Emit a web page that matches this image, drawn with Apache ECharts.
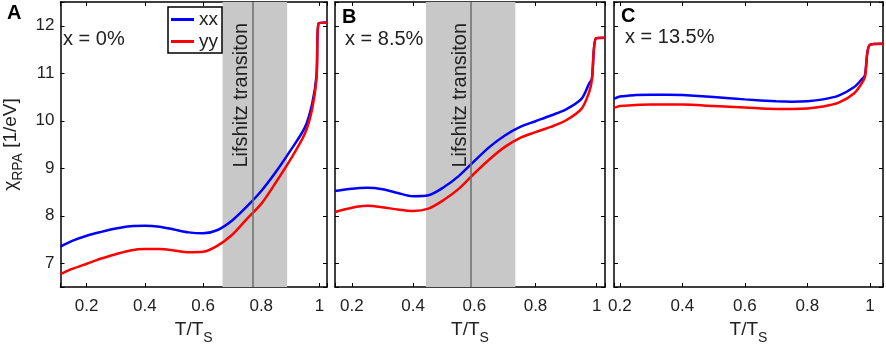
<!DOCTYPE html>
<html>
<head>
<meta charset="utf-8">
<script src="https://cdn.jsdelivr.net/npm/echarts@6/dist/echarts.min.js"></script>
<style>
html, body { margin: 0; padding: 0; background: #fff; }
#chart { width: 886px; height: 350px; }
</style>
</head>
<body>
<div id="chart"></div>
<script>
var chart = echarts.init(document.getElementById('chart'));

// panel A, x = 0%
var tA = [0.11, 0.15, 0.2, 0.25, 0.3, 0.35, 0.4, 0.45, 0.5, 0.55, 0.6, 0.65, 0.7, 0.75, 0.8, 0.85, 0.9, 0.95, 0.975, 0.99, 0.997, 1.026];
var xxA = [7.35, 7.47, 7.58, 7.66, 7.73, 7.78, 7.79, 7.77, 7.71, 7.65, 7.63, 7.70, 7.90, 8.19, 8.52, 8.92, 9.37, 9.86, 10.36, 10.95, 12.05, 12.07];
var yyA = [6.77, 6.88, 6.99, 7.10, 7.19, 7.27, 7.30, 7.30, 7.27, 7.23, 7.24, 7.37, 7.60, 7.93, 8.25, 8.70, 9.18, 9.73, 10.25, 10.90, 12.05, 12.07];

// panel B, x = 8.5%
var tB = [0.145, 0.2, 0.25, 0.3, 0.35, 0.4, 0.45, 0.5, 0.55, 0.6, 0.65, 0.7, 0.75, 0.8, 0.85, 0.9, 0.95, 0.975, 0.984, 0.998, 1.027];
var xxB = [8.52, 8.57, 8.59, 8.56, 8.48, 8.41, 8.43, 8.60, 8.84, 9.15, 9.45, 9.69, 9.87, 9.99, 10.11, 10.24, 10.46, 10.78, 10.88, 11.74, 11.75];
var yyB = [8.08, 8.17, 8.21, 8.18, 8.13, 8.10, 8.15, 8.33, 8.57, 8.89, 9.19, 9.45, 9.64, 9.76, 9.87, 10.01, 10.25, 10.60, 10.85, 11.74, 11.75];

// panel C, x = 13.5%
var tC = [0.181, 0.2, 0.25, 0.3, 0.35, 0.4, 0.5, 0.6, 0.7, 0.75, 0.8, 0.85, 0.9, 0.95, 0.975, 0.984, 1.0, 1.042];
var xxC = [10.46, 10.51, 10.54, 10.55, 10.55, 10.54, 10.50, 10.45, 10.41, 10.40, 10.41, 10.45, 10.53, 10.71, 10.88, 10.95, 11.60, 11.62];
var yyC = [10.27, 10.31, 10.33, 10.34, 10.34, 10.34, 10.31, 10.28, 10.25, 10.25, 10.26, 10.30, 10.38, 10.58, 10.80, 10.92, 11.60, 11.62];

// Lifshitz transition bands
var bandA = [0.667, 0.889], lineA = 0.774;
var bandB = [0.442, 0.734], lineB = 0.59;

var xRanges = [[0.11, 1.026], [0.145, 1.027], [0.181, 1.042]];
var yRange = [6.5, 12.5];
var panelLetters = ['A', 'B', 'C'];
var panelText = ['x = 0%', 'x = 8.5%', 'x = 13.5%'];

var font = 'Liberation Sans, Arial, sans-serif';
var grids = [
    { left: 57, top: 2, width: 270, height: 287 },
    { left: 335, top: 2, width: 270, height: 287 },
    { left: 614, top: 2, width: 271, height: 287 }
];

function pairs(t, v) {
    return t.map(function (x, i) { return [x, v[i]]; });
}

// only label the round ticks, not the axis ends
function tickFmt(step) {
    return function (v) {
        var k = v / step;
        return Math.abs(k - Math.round(k)) < 1e-6 ? String(+v.toFixed(2)) : '';
    };
}

var xAxes = [], yAxes = [];
grids.forEach(function (g, i) {
    var base = {
        type: 'value', gridIndex: i, min: xRanges[i][0], max: xRanges[i][1], splitNumber: 5,
        axisLine: { onZero: false, lineStyle: { color: '#000', width: 1.5 } },
        axisTick: { inside: true, length: 4, lineStyle: { color: '#000', width: 1 } },
        splitLine: { show: false }
    };
    xAxes.push(Object.assign({}, base, {
        position: 'bottom',
        axisLabel: { fontSize: 17, fontFamily: font, color: '#222', margin: 11, formatter: tickFmt(0.2) },
        name: '{n|T/T}{s|S}', nameLocation: 'middle', nameGap: 28,
        nameTextStyle: {
            rich: {
                n: { fontSize: 19, fontFamily: font, color: '#222' },
                s: { fontSize: 14, fontFamily: font, color: '#222', padding: [16, 0, 0, 0] }
            }
        }
    }));
    xAxes.push(Object.assign({}, base, { position: 'top', axisLabel: { show: false } }));

    var ybase = {
        type: 'value', gridIndex: i, min: yRange[0], max: yRange[1], splitNumber: 6,
        axisLine: { onZero: false, lineStyle: { color: '#000', width: 1.5 } },
        axisTick: { inside: true, length: 4, lineStyle: { color: '#000', width: 1 } },
        splitLine: { show: false }
    };
    var left = Object.assign({}, ybase, {
        position: 'left',
        axisLabel: { show: i === 0, fontSize: 17, fontFamily: font, color: '#222', margin: 6, formatter: tickFmt(1) }
    });
    if (i === 0) {
        left.name = '{c|χ}{s|RPA}{c| [1/eV]}';
        left.nameLocation = 'middle';
        left.nameGap = 35;
        left.nameTextStyle = {
            rich: {
                c: { fontSize: 19, fontFamily: font, color: '#222' },
                s: { fontSize: 14, fontFamily: font, color: '#222', padding: [16, 0, 0, 0] }
            }
        };
    }
    yAxes.push(left);
    yAxes.push(Object.assign({}, ybase, { position: 'right', axisLabel: { show: false } }));
});

function curve(name, i, t, v, color) {
    return {
        name: name, type: 'line', xAxisIndex: 2 * i, yAxisIndex: 2 * i,
        data: pairs(t, v), symbol: 'none', showSymbol: false, smooth: 0.3,
        lineStyle: { color: color, width: 2.5 }, itemStyle: { color: color }, z: 3
    };
}

function transition(i, band, x) {
    return {
        type: 'line', xAxisIndex: 2 * i, yAxisIndex: 2 * i, data: [], silent: true, z: 1,
        markArea: {
            silent: true, itemStyle: { color: '#c8c8c8' },
            data: [[{ xAxis: band[0] }, { xAxis: band[1] }]]
        },
        markLine: {
            silent: true, symbol: 'none', animation: false,
            lineStyle: { color: '#6e6e6e', width: 1.5, type: 'solid' },
            label: {
                position: 'insideEndTop', distance: [21, 1],
                formatter: 'Lifshitz transiton', fontSize: 20, fontFamily: font, color: '#222'
            },
            data: [{ xAxis: x }]
        }
    };
}

var titles = [];
panelLetters.forEach(function (l, i) {
    var pos = [[7, 3], [342, 7], [621, 6]][i];
    titles.push({ text: l, left: pos[0], top: pos[1], padding: 0,
        textStyle: { fontSize: 20, fontWeight: 'bold', fontFamily: font, color: '#000' } });
});
panelText.forEach(function (s, i) {
    var pos = [[63, 29], [345, 29], [625, 27]][i];
    titles.push({ text: s, left: pos[0], top: pos[1], padding: 0,
        textStyle: { fontSize: 20, fontWeight: 'normal', fontFamily: font, color: '#222' } });
});

var option = {
    animation: false,
    backgroundColor: '#fff',
    title: titles,
    legend: {
        data: ['xx', 'yy'], orient: 'vertical', left: 168, top: 7,
        icon: 'rect', itemWidth: 23, itemHeight: 3, itemGap: 3, padding: [3, 4, 2, 3],
        borderColor: '#000', borderWidth: 1.5, backgroundColor: '#fff',
        textStyle: { fontSize: 19, fontFamily: font, color: '#222' }
    },
    grid: grids,
    xAxis: xAxes,
    yAxis: yAxes,
    series: [
        transition(0, bandA, lineA),
        transition(1, bandB, lineB),
        curve('xx', 0, tA, xxA, '#0000ff'),
        curve('yy', 0, tA, yyA, '#ff0000'),
        curve('xx', 1, tB, xxB, '#0000ff'),
        curve('yy', 1, tB, yyB, '#ff0000'),
        curve('xx', 2, tC, xxC, '#0000ff'),
        curve('yy', 2, tC, yyC, '#ff0000')
    ]
};

chart.setOption(option);
</script>
</body>
</html>
